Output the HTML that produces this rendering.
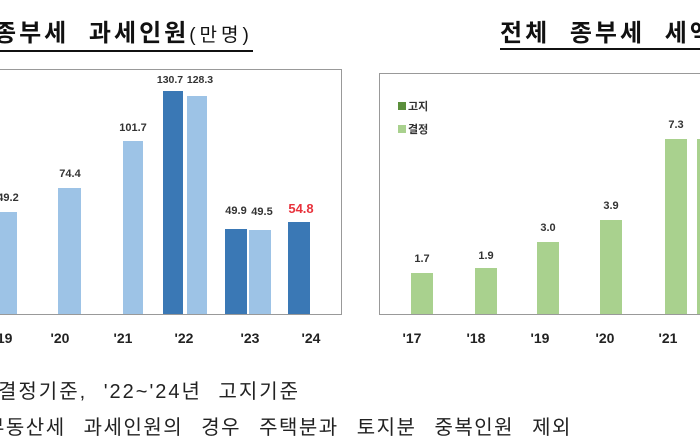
<!DOCTYPE html><html><head><meta charset="utf-8"><style>
body{margin:0;width:700px;height:440px;overflow:hidden;background:#fff;position:relative;font-family:"Liberation Sans","Noto Sans CJK KR",sans-serif}
.a{position:absolute}
.t{font-size:24px;font-weight:bold;color:#111;white-space:nowrap;letter-spacing:3px;word-spacing:10px}
.v{position:absolute;font-size:11px;font-weight:bold;color:#333;text-align:center;width:50px;margin-left:-25px}
.x{position:absolute;font-size:14px;font-weight:bold;color:#222;text-align:center;width:40px;margin-left:-20px;top:330px}
.b{position:absolute;bottom:126px}
.d{background:#3a78b5}.l{background:#9dc3e6}.g{background:#a9d18e}
.f{font-size:20px;color:#222;white-space:nowrap;letter-spacing:1.5px;word-spacing:11px}
</style></head><body>
<div class="a t" style="left:-6px;top:19px;border-bottom:2px solid #111;line-height:29px">종부세 과세인원<span style="font-weight:normal;font-size:19px;letter-spacing:4px">(만명)</span></div>
<div class="a t" style="left:500px;top:19px;border-bottom:2px solid #111;line-height:29px;width:240px">전체 종부세 세액</div>
<div class="a" style="left:-2px;top:69px;width:343px;height:244px;border:1px solid #999;border-left:none"></div>
<div class="a" style="left:379px;top:73px;width:330px;height:240px;border:1px solid #999"></div>
<div class="b l" style="left:0;width:17px;top:212px;height:102px"></div>
<div class="b l" style="left:58px;width:23px;top:188px;height:126px"></div>
<div class="b l" style="left:123px;width:20px;top:141px;height:173px"></div>
<div class="b d" style="left:163px;width:20px;top:91px;height:223px"></div>
<div class="b l" style="left:187px;width:20px;top:96px;height:218px"></div>
<div class="b d" style="left:225px;width:22px;top:229px;height:85px"></div>
<div class="b l" style="left:249px;width:22px;top:230px;height:84px"></div>
<div class="b d" style="left:288px;width:22px;top:222px;height:92px"></div>
<div class="v" style="left:8px;top:192px">49.2</div>
<div class="v" style="left:70px;top:168px">74.4</div>
<div class="v" style="left:133px;top:122px">101.7</div>
<div class="v" style="left:170px;top:74px;font-size:10.5px">130.7</div>
<div class="v" style="left:200px;top:74px;font-size:10.5px">128.3</div>
<div class="v" style="left:236px;top:205px">49.9</div>
<div class="v" style="left:262px;top:206px">49.5</div>
<div class="v" style="left:301px;top:201px;color:#e8323c;font-size:13px">54.8</div>
<div class="x" style="left:3px">'19</div><div class="x" style="left:60px">'20</div><div class="x" style="left:123px">'21</div><div class="x" style="left:184px">'22</div><div class="x" style="left:250px">'23</div><div class="x" style="left:311px">'24</div>
<div class="a" style="left:398px;top:96px;font-size:11px;font-weight:bold;color:#333;line-height:23px"><span style="display:inline-block;width:8px;height:8px;background:#5b8f3c;margin-right:2px"></span>고지<br><span style="display:inline-block;width:8px;height:8px;background:#a9d18e;margin-right:2px"></span>결정</div>
<div class="b g" style="left:411px;width:22px;top:273px;height:41px"></div>
<div class="b g" style="left:475px;width:22px;top:268px;height:46px"></div>
<div class="b g" style="left:537px;width:22px;top:242px;height:72px"></div>
<div class="b g" style="left:600px;width:22px;top:220px;height:94px"></div>
<div class="b g" style="left:665px;width:22px;top:139px;height:175px"></div>
<div class="b g" style="left:697px;width:10px;top:139px;height:175px"></div>
<div class="v" style="left:422px;top:253px">1.7</div>
<div class="v" style="left:486px;top:250px">1.9</div>
<div class="v" style="left:548px;top:222px">3.0</div>
<div class="v" style="left:611px;top:200px">3.9</div>
<div class="v" style="left:676px;top:119px">7.3</div>
<div class="x" style="left:412px">'17</div><div class="x" style="left:476px">'18</div><div class="x" style="left:540px">'19</div><div class="x" style="left:605px">'20</div><div class="x" style="left:668px">'21</div>
<div class="a f" style="left:-2px;top:375px;letter-spacing:2px;word-spacing:9px">결정기준, '22~'24년 고지기준</div>
<div class="a f" style="left:-14px;top:411px">부동산세 과세인원의 경우 주택분과 토지분 중복인원 제외</div>
</body></html>
